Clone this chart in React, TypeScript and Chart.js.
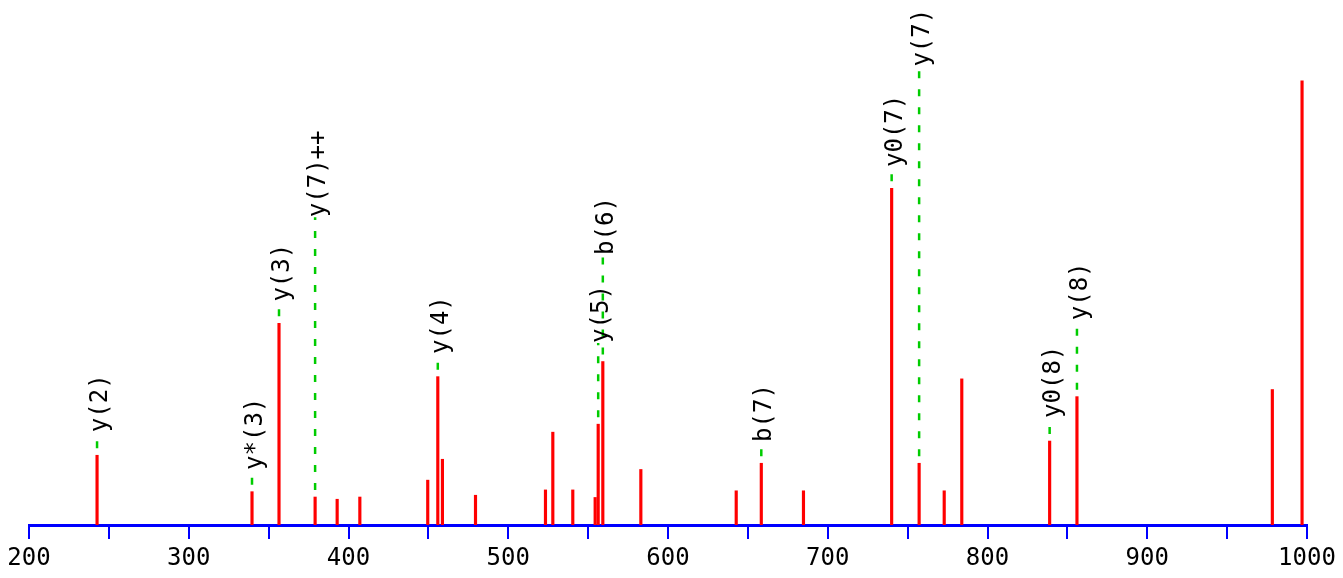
import React, { useEffect, useRef } from "react";
import { Chart, registerables } from "chart.js";

Chart.register(...registerables);

// Peak list (m/z, relative intensity)
const peakMz = [
  242.6, 339.6, 356.5, 379.1, 392.9, 407.1, 449.6, 455.9, 458.8, 479.5,
  523.3, 527.9, 540.4, 554.4, 556.3, 559.2, 583.0, 642.7, 658.4, 684.8,
  740.0, 757.2, 772.9, 783.9, 838.9, 856.0, 978.3, 996.9,
];
const peakIntensity = [
  15.7, 7.5, 45.4, 6.3, 5.8, 6.3, 10.1, 33.4, 14.8, 6.7,
  7.9, 20.9, 7.9, 6.2, 22.7, 36.8, 12.5, 7.7, 13.9, 7.7,
  75.8, 13.9, 7.7, 32.9, 18.9, 28.9, 30.5, 100,
];

// Annotated fragment ions
const annotMz = [242.6, 339.6, 356.5, 379.1, 455.9, 556.3, 559.2, 658.4, 740.0, 757.2, 838.9, 856.0];
const annotText = ["y(2)", "y*(3)", "y(3)", "y(7)++", "y(4)", "y(5)", "b(6)", "b(7)", "y0(7)", "y(7)", "y0(8)", "y(8)"];
const annotPeak = [15.7, 7.5, 45.4, 6.3, 33.4, 22.7, 36.8, 13.9, 75.8, 13.9, 18.9, 28.9];
const annotLabelY = [20.9, 12.4, 50.3, 69.3, 38.5, 41.0, 60.8, 18.7, 80.6, 103.2, 24.1, 46.1];

// Axis
const xMin = 200;
const xMax = 1000;
const xStep = 50;
const yMax = 118.2;

const FONT = "'DejaVu Sans Mono', monospace";

const labelPlugin = {
  id: "ionLabels",
  afterDatasetsDraw(chart: any) {
    const ctx = chart.ctx;
    const xs = chart.scales.x;
    const ys = chart.scales.y;
    ctx.save();
    ctx.fillStyle = "#000000";
    ctx.font = `24px ${FONT}`;
    ctx.textAlign = "left";
    ctx.textBaseline = "alphabetic";
    for (let i = 0; i < annotText.length; i++) {
      const px = xs.getPixelForValue(annotMz[i]);
      const py = ys.getPixelForValue(annotLabelY[i]);
      ctx.save();
      ctx.translate(px, py);
      ctx.rotate(-Math.PI / 2);
      ctx.fillText(annotText[i], 0, 10);
      ctx.restore();
    }
    ctx.restore();
  },
};

export default function App() {
  const canvasRef = useRef<HTMLCanvasElement | null>(null);

  useEffect(() => {
    if (!canvasRef.current) return;
    const dashData: any[] = [];
    for (let i = 0; i < annotMz.length; i++) {
      dashData.push({ x: annotMz[i], y: annotPeak[i] });
      dashData.push({ x: annotMz[i], y: annotLabelY[i] });
      dashData.push({ x: annotMz[i], y: null });
    }
    const chart = new Chart(canvasRef.current, {
      type: "bar",
      data: {
        datasets: [
          {
            type: "line",
            data: dashData,
            borderColor: "#00cc00",
            borderWidth: 2.5,
            borderDash: [7, 11],
            borderDashOffset: 11,
            pointRadius: 0,
            spanGaps: false,
            fill: false,
            tension: 0,
            order: 1,
          } as any,
          {
            type: "bar",
            data: peakMz.map((m, i) => ({ x: m, y: peakIntensity[i] })),
            backgroundColor: "#ff0000",
            borderWidth: 0,
            barThickness: 2.5,
            grouped: false,
            order: 2,
          } as any,
        ],
      },
      options: {
        animation: false,
        responsive: false,
        devicePixelRatio: 1,
        layout: { padding: { left: 29, right: 36, top: 0, bottom: 0 } },
        plugins: { legend: { display: false }, tooltip: { enabled: false } },
        scales: {
          x: {
            type: "linear",
            min: xMin,
            max: xMax,
            offset: false,
            z: 1,
            afterFit: (scale: any) => {
              scale.height = 53;
            },
            border: { display: true, color: "#0000ff", width: 3 },
            grid: {
              display: true,
              offset: false,
              drawOnChartArea: false,
              drawTicks: true,
              tickLength: 14,
              color: "#0000ff",
              lineWidth: 2,
            },
            ticks: {
              stepSize: xStep,
              autoSkip: false,
              maxRotation: 0,
              padding: 5,
              color: "#000000",
              font: { family: FONT, size: 24 },
              callback: (v: any) => (Number(v) % 100 === 0 ? String(v) : ""),
            },
          },
          y: {
            type: "linear",
            display: false,
            min: 0,
            max: yMax,
          },
        },
      } as any,
      plugins: [labelPlugin],
    });
    return () => chart.destroy();
  }, []);

  return (
    <div style={{ position: "absolute", left: 0, top: 0, width: 1343, height: 578, background: "#ffffff" }}>
      <canvas ref={canvasRef} width={1343} height={578} />
    </div>
  );
}
